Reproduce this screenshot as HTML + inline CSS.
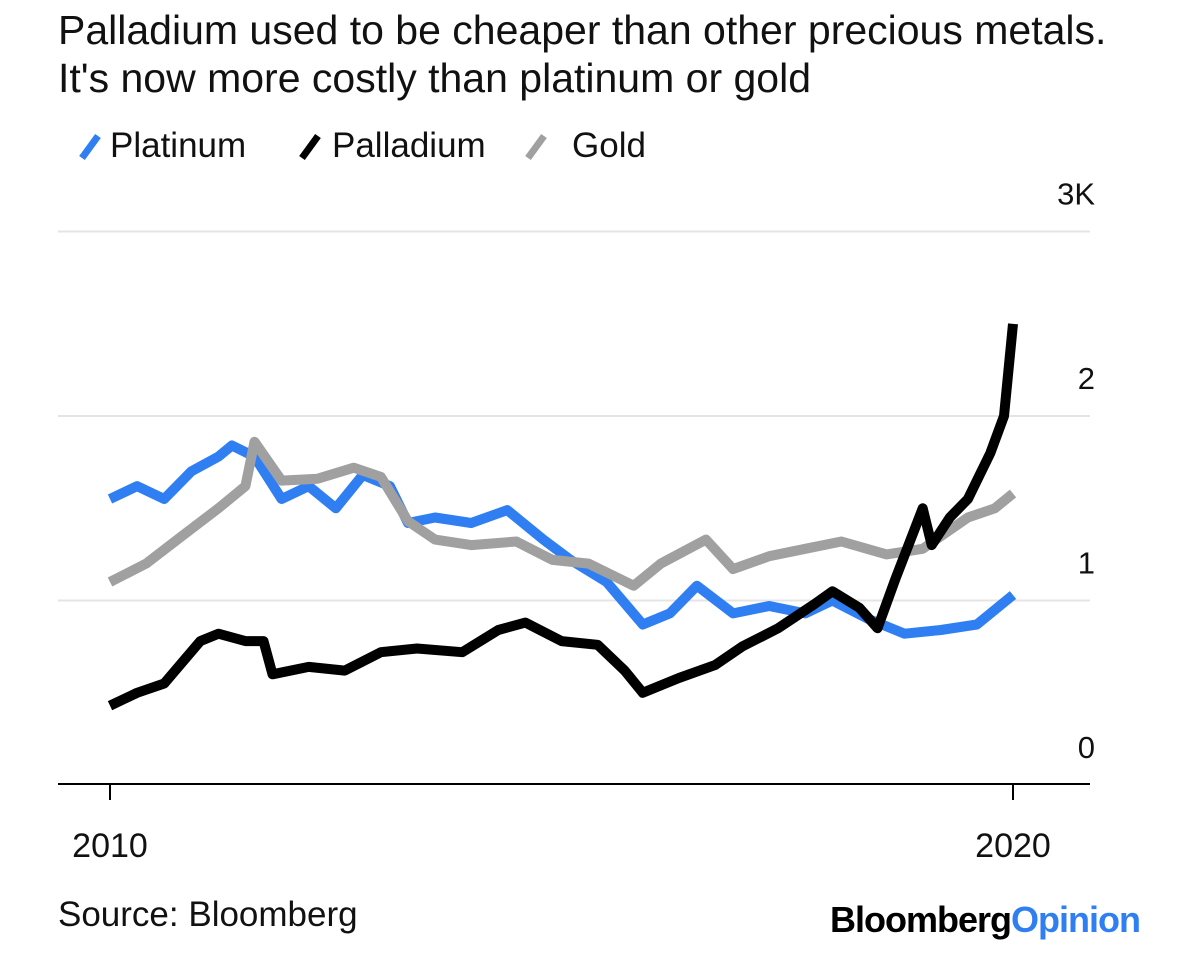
<!DOCTYPE html>
<html><head><meta charset="utf-8"><style>
body{margin:0;width:1200px;height:960px;background:#fff;font-family:"Liberation Sans",sans-serif;overflow:hidden}
</style></head><body>
<svg width="1200" height="960" style="position:absolute;left:0;top:0">
<text x="58" y="44" font-size="41" fill="#111">Palladium used to be cheaper than other precious metals.</text>
<text x="58" y="92" font-size="41" fill="#111">It's now more costly than platinum or gold</text>
<g>
<line x1="82" y1="158" x2="98" y2="136" stroke="#2f7ef2" stroke-width="7"/>
<text x="110" y="157" font-size="35" fill="#111">Platinum</text>
<line x1="302" y1="158" x2="318" y2="136" stroke="#000" stroke-width="7"/>
<text x="332" y="157" font-size="35" fill="#111">Palladium</text>
<line x1="528" y1="158" x2="544" y2="136" stroke="#a0a0a0" stroke-width="7"/>
<text x="572" y="157" font-size="35" fill="#111">Gold</text>
</g>
<g id="grid"></g>
<g id="series"></g>
<line x1="58" y1="784" x2="1090" y2="784" stroke="#000" stroke-width="2"/>
<g id="xt"></g>
<text x="58" y="926" font-size="35" fill="#111">Source: Bloomberg</text>
<text x="1140" y="932" font-size="36" font-weight="bold" text-anchor="end" letter-spacing="-1" fill="#000">Bloomberg<tspan fill="#2f7ef2">Opinion</tspan></text>
</svg>
<script>
const yTicks=[0,1,2,3];
const yTickLabels=["0","1","2","3K"];
const xTicks=[2010,2020];
const platYears=[2010,2010.3,2010.6,2010.9,2011.2,2011.35,2011.6,2011.9,2012.2,2012.5,2012.8,2013.1,2013.3,2013.6,2014,2014.4,2014.8,2015.1,2015.5,2015.9,2016.2,2016.5,2016.9,2017.3,2017.7,2018,2018.4,2018.8,2019.2,2019.6,2020];
const platVals=[1.55,1.62,1.55,1.7,1.78,1.84,1.78,1.55,1.62,1.5,1.68,1.62,1.42,1.45,1.42,1.49,1.33,1.22,1.1,0.87,0.93,1.08,0.93,0.97,0.93,1.0,0.9,0.82,0.84,0.87,1.03];
const goldYears=[2010,2010.4,2010.8,2011.2,2011.5,2011.6,2011.9,2012.3,2012.7,2013.0,2013.3,2013.6,2014,2014.5,2014.9,2015.3,2015.8,2016.1,2016.6,2016.9,2017.3,2017.7,2018.1,2018.6,2019,2019.5,2019.8,2020];
const goldVals=[1.1,1.2,1.35,1.5,1.62,1.86,1.65,1.66,1.72,1.67,1.43,1.33,1.3,1.32,1.22,1.2,1.08,1.2,1.33,1.17,1.24,1.28,1.32,1.25,1.28,1.45,1.5,1.58];
const pallYears=[2010,2010.3,2010.6,2011,2011.2,2011.5,2011.7,2011.8,2012.2,2012.6,2013,2013.4,2013.9,2014.3,2014.6,2015,2015.4,2015.7,2015.9,2016.3,2016.7,2017,2017.4,2017.8,2018,2018.3,2018.5,2018.7,2019,2019.1,2019.3,2019.5,2019.75,2019.9,2020];
const pallVals=[0.43,0.5,0.55,0.78,0.82,0.78,0.78,0.6,0.64,0.62,0.72,0.74,0.72,0.84,0.88,0.78,0.76,0.62,0.5,0.58,0.65,0.75,0.85,0.98,1.05,0.96,0.85,1.12,1.5,1.3,1.45,1.55,1.8,2.0,2.5];
const X=v=>110+(v-2010)*90.3;
const Y=v=>785-v*184.5;
const NS="http://www.w3.org/2000/svg";
const grid=document.getElementById('grid');
yTicks.forEach((t,i)=>{
 if(t>0){const l=document.createElementNS(NS,'line');
 l.setAttribute('x1',58);l.setAttribute('x2',1090);l.setAttribute('y1',Y(t));l.setAttribute('y2',Y(t));
 l.setAttribute('stroke','#e4e4e4');l.setAttribute('stroke-width',2);
 
 
 grid.appendChild(l);}
 const tx=document.createElementNS(NS,'text');
 tx.setAttribute('x',1095);tx.setAttribute('y',Y(t)-27);tx.setAttribute('text-anchor','end');
 tx.setAttribute('font-size','31');tx.setAttribute('fill','#111');tx.textContent=yTickLabels[i];
 
 
 grid.appendChild(tx);
});
const xt=document.getElementById('xt');
xTicks.forEach(t=>{
 const l=document.createElementNS(NS,'line');
 l.setAttribute('x1',X(t));l.setAttribute('x2',X(t));l.setAttribute('y1',784);l.setAttribute('y2',800);
 l.setAttribute('stroke','#000');l.setAttribute('stroke-width',2);
 
 
 xt.appendChild(l);
 const tx=document.createElementNS(NS,'text');
 tx.setAttribute('x',X(t));tx.setAttribute('y',857);tx.setAttribute('text-anchor','middle');
 tx.setAttribute('font-size','34');tx.setAttribute('fill','#111');tx.textContent=t;
 
 
 xt.appendChild(tx);
});
const ser=document.getElementById('series');
function draw(ys,vs,color,name){
 const p=document.createElementNS(NS,'path');
 p.setAttribute('d',ys.map((y,i)=>(i?'L':'M')+X(y).toFixed(1)+','+Y(vs[i]).toFixed(1)).join(''));
 p.setAttribute('fill','none');p.setAttribute('stroke',color);p.setAttribute('stroke-width',10);
 p.setAttribute('stroke-linejoin','round');
 
 
 ser.appendChild(p);
}
draw(platYears,platVals,'#2f7ef2','platinum-line');
draw(goldYears,goldVals,'#a0a0a0','gold-line');
draw(pallYears,pallVals,'#000','palladium-line');
</script>
</body></html>
